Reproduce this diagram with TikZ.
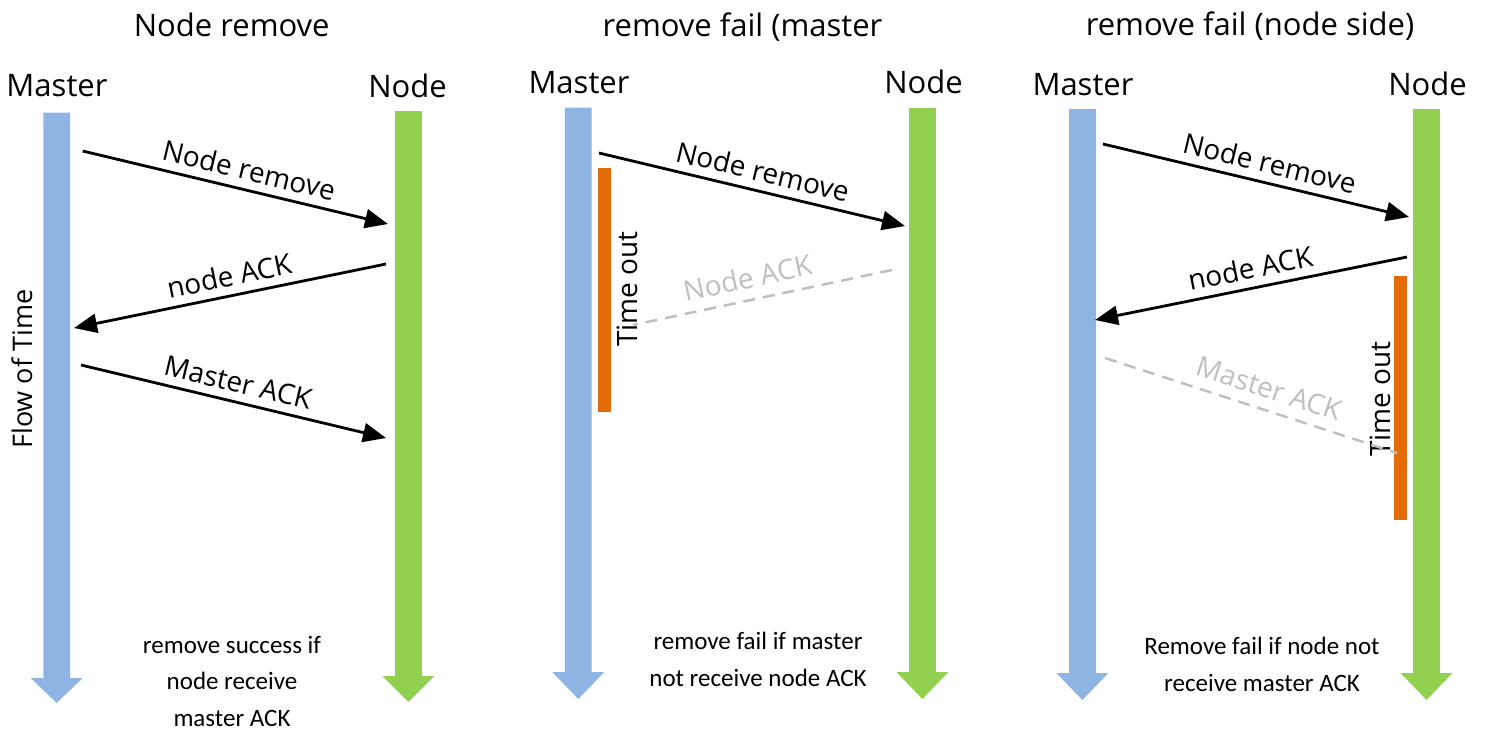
\documentclass[tikz,border=0pt]{standalone}
\usepackage{fontspec}
\setmainfont{Open Sans}
\newfontfamily\calfont{Carlito}
\usetikzlibrary{arrows.meta}
\definecolor{mblue}{HTML}{8EB4E3}
\definecolor{ngreen}{HTML}{92D050}
\definecolor{torange}{HTML}{E36C09}
\definecolor{lgray}{HTML}{BFBFBF}
\tikzset{
  titletext/.style={font=\fontsize{31}{37}\selectfont, anchor=base, inner sep=0pt},
  actor/.style={font=\fontsize{31}{37}\selectfont, anchor=base, inner sep=0pt},
  msg/.style={line width=2.8pt, -{Triangle[length=23pt,width=19pt]}},
  lost/.style={line width=2.5pt, lgray, dash pattern=on 12pt off 8pt},
  msglabel/.style={font=\fontsize{28}{34}\selectfont, sloped, above, inner sep=8pt},
  lostlabel/.style={msglabel, inner sep=10.5pt, text=lgray},
  notetext/.style={font=\calfont\fontsize{25}{36.5}\selectfont, align=center, anchor=base, inner sep=0pt},
  timeout/.style={font=\fontsize{28}{34}\selectfont, rotate=90, inner sep=0pt},
  timebar/.style={fill=torange, draw=none},
}
\newcommand\lifeline[5]{%
  \fill[#5] ({#1-13.4},#2) -- ({#1+13.4},#2) -- ({#1+13.4},#3) -- ({#1+26},#3)
    -- (#1,#4) -- ({#1-26},#3) -- ({#1-13.4},#3) -- cycle;}
\begin{document}
\begin{tikzpicture}[x=1pt,y=-1pt]
\useasboundingbox (0,0) rectangle (1487,734);

% titles
\node[titletext] (t1) at (231.7,36) {Node remove};
\node[titletext] (t2) at (742.5,36) {remove fail (master};
\node[titletext] (t3) at (1250,35) {remove fail (node side)};

% actor labels
\node[actor] (m1) at (57,96) {Master};
\node[actor] (n1) at (407.5,97.7) {Node};
\node[actor] (m2) at (579,93.3) {Master};
\node[actor] (n2) at (923.5,93.3) {Node};
\node[actor] (m3) at (1083,95) {Master};
\node[actor] (n3) at (1427.5,95) {Node};

% lifelines
\lifeline{56.7}{112.7}{678}{703}{mblue}
\lifeline{408.4}{111}{676}{702}{ngreen}
\lifeline{578.3}{107.7}{672}{699}{mblue}
\lifeline{922.4}{108}{672}{699}{ngreen}
\lifeline{1082.4}{109}{673}{700}{mblue}
\lifeline{1426.5}{109}{673}{700}{ngreen}

% flow of time
\node[font=\fontsize{27}{32}\selectfont, rotate=90, inner sep=0pt] (flow) at (22,369) {Flow of Time};

% timeout bars
\fill[timebar] (597.7,167.7) rectangle (611,411.7);
\fill[timebar] (1394,276) rectangle (1407,520);
\node[timeout] (to2) at (627,289) {Time out};
\node[timeout] (to3) at (1380,399) {Time out};

% panel 1 messages
\coordinate (a1s) at (82.7,151);  \coordinate (a1e) at (388,224);
\coordinate (a2s) at (386,264);   \coordinate (a2e) at (74,328);
\coordinate (a3s) at (81,365);    \coordinate (a3e) at (386,438);
\draw[msg] (a1s) -- node[msglabel, pos=0.53] {Node remove} (a1e);
\draw[msg] (a2s) -- node[msglabel, pos=0.49] {node ACK} (a2e);
\draw[msg] (a3s) -- node[msglabel, pos=0.50] {Master ACK} (a3e);

% panel 2 messages
\coordinate (b1s) at (599,153);   \coordinate (b1e) at (905,226);
\coordinate (b2s) at (892,270);   \coordinate (b2e) at (633,325);
\draw[msg] (b1s) -- node[msglabel, pos=0.52] {Node remove} (b1e);
\draw[lost] (b2s) -- node[lostlabel, pos=0.54] {Node ACK} (b2e);

% panel 3 messages
\coordinate (c1s) at (1103,144);  \coordinate (c1e) at (1409,217);
\coordinate (c2s) at (1407,257);  \coordinate (c2e) at (1095,320);
\coordinate (c3s) at (1105,358);  \coordinate (c3e) at (1397,453);
\draw[msg] (c1s) -- node[msglabel, pos=0.53] {Node remove} (c1e);
\draw[msg] (c2s) -- node[msglabel, pos=0.49] {node ACK} (c2e);
\draw[lost] (c3s) -- node[lostlabel, pos=0.54] {Master ACK} (c3e);

% notes (anchor=base is the last line's baseline)
\node[notetext] (note1) at (232,726) {remove success if\\node receive\\master ACK};
\node[notetext] (note2) at (758,686) {remove fail if master\\not receive node ACK};
\node[notetext] (note3) at (1262,691) {Remove fail if node not\\receive master ACK};
\end{tikzpicture}
\end{document}
